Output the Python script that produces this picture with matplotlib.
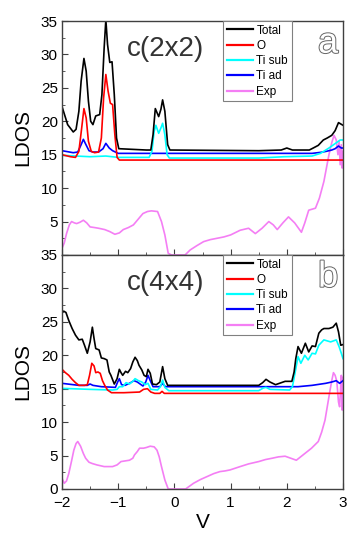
import matplotlib
matplotlib.use("Agg")
import matplotlib.pyplot as plt
import matplotlib.patheffects as pe
from matplotlib.ticker import MultipleLocator

# ---- panel a : c(2x2) ----
total_a_v = [-2.0, -1.90, -1.80, -1.75, -1.70, -1.66, -1.61, -1.57, -1.53, -1.49, -1.45, -1.40, -1.33, -1.29, -1.25,
             -1.22, -1.19, -1.15, -1.11, -1.07, -1.03, -0.99, -0.5, -0.42, -0.38, -0.34, -0.28, -0.24, -0.21, -0.17,
             -0.12, -0.08, 1.5, 1.9, 2.0, 2.1, 2.4, 2.47, 2.56, 2.65, 2.72, 2.80, 2.86, 2.92, 2.96, 3.0]
total_a = [22.2, 19.5, 18.4, 18.8, 21.5, 26.0, 29.4, 27.5, 23.0, 20.0, 19.5, 20.8, 21.0, 24.0, 31.0,
           35.2, 31.5, 28.8, 28.9, 24.0, 17.5, 15.9, 15.7, 15.7, 18.0, 21.9, 20.7, 21.8, 23.2, 21.5,
           16.5, 15.7, 15.6, 15.7, 16.0, 15.7, 15.7, 16.0, 16.4, 17.2, 17.5, 17.9, 18.6, 19.8, 19.6, 19.4]

o_a_v = [-2.0, -1.85, -1.76, -1.70, -1.65, -1.61, -1.57, -1.53, -1.48, -1.42, -1.35, -1.30, -1.26, -1.22, -1.18,
         -1.14, -1.10, -1.06, -1.02, -0.98, 3.0]
o_a = [15.0, 14.7, 14.6, 15.5, 19.0, 21.9, 20.5, 17.0, 15.5, 15.3, 15.4, 17.5, 23.5, 27.0, 24.5,
       22.7, 22.5, 18.0, 14.6, 14.2, 14.2]

tisub_a_v = [-2.0, -1.5, -1.22, -1.0, -0.45, -0.40, -0.36, -0.33, -0.28, -0.24, -0.21, -0.17, -0.13, -0.09,
             1.5, 1.95, 2.45, 2.6, 2.75, 2.85, 2.95, 3.0]
tisub_a = [14.9, 14.7, 14.8, 14.6, 14.6, 15.5, 18.5, 19.4, 18.2, 19.0, 19.7, 18.0, 15.0, 14.5,
           14.5, 14.7, 14.8, 15.2, 16.0, 16.6, 17.2, 17.2]

tiad_a_v = [-2.0, -1.80, -1.72, -1.66, -1.62, -1.58, -1.52, -1.45, -1.35, -1.27, -1.22, -1.16, -1.10, -1.0,
            2.45, 2.6, 2.7, 2.8, 2.86, 2.92, 2.97, 3.0]
tiad_a = [15.6, 15.3, 15.4, 16.5, 17.3, 16.6, 15.6, 15.4, 15.4, 15.9, 16.7, 16.0, 15.6, 15.2,
          15.2, 15.35, 15.5, 15.7, 15.9, 16.3, 16.0, 16.0]

exp_a_v = [-2.0, -1.96, -1.92, -1.87, -1.83, -1.78, -1.74, -1.68, -1.62, -1.56, -1.50, -1.42, -1.35, -1.24,
           -1.15, -1.06, -0.98, -0.91, -0.82, -0.73, -0.65, -0.56, -0.48, -0.41, -0.30, -0.23, -0.17, -0.11,
           -0.05, 0.19, 0.28, 0.40, 0.52, 0.64, 0.76, 0.88, 1.0, 1.17, 1.32, 1.44, 1.56, 1.68, 1.76, 1.83,
           1.93, 2.03, 2.14, 2.26, 2.32, 2.39, 2.51, 2.58, 2.66, 2.75, 2.80, 2.84, 2.88, 2.91, 2.93, 2.95,
           2.97, 2.985, 3.0]
exp_a = [1.0, 1.8, 3.2, 4.5, 5.0, 4.8, 4.7, 4.9, 5.2, 4.8, 4.2, 4.1, 4.0, 3.8,
         3.5, 3.1, 3.3, 3.8, 4.1, 4.5, 5.3, 6.2, 6.5, 6.6, 6.5, 5.0, 3.0, 0.25,
         0.0, 0.0, 0.75, 1.4, 2.0, 2.3, 2.5, 2.7, 3.0, 3.7, 4.0, 3.2, 4.0, 5.0, 4.5, 3.8,
         4.8, 5.7, 4.8, 3.4, 4.8, 6.7, 7.0, 8.5, 11.0, 15.0, 16.8, 17.9, 17.2, 15.0, 17.0, 13.5,
         16.5, 13.0, 15.5]

# ---- panel b : c(4x4) ----
total_b_v = [-2.0, -1.97, -1.93, -1.88, -1.82, -1.76, -1.70, -1.64, -1.60, -1.55, -1.50, -1.46, -1.43, -1.40,
             -1.34, -1.30, -1.25, -1.20, -1.16, -1.13, -1.07, -1.02, -0.98, -0.95, -0.92, -0.87, -0.83, -0.78,
             -0.74, -0.70, -0.66, -0.63, -0.58, -0.54, -0.50, -0.47, -0.43, -0.39, -0.32, -0.26, -0.21, -0.17,
             -0.12, 1.5, 1.57, 1.63, 1.70, 1.8, 1.97, 2.09, 2.13, 2.16, 2.20, 2.26, 2.33, 2.39, 2.45, 2.51,
             2.57, 2.62, 2.66, 2.75, 2.82, 2.88, 2.92, 2.96, 3.0]
total_b = [26.3, 26.6, 26.4, 25.2, 24.0, 23.0, 22.3, 22.4, 21.5, 20.3, 22.0, 24.2, 22.5, 21.0,
           20.8, 19.6, 19.5, 19.3, 17.5, 17.0, 15.7, 16.5, 17.9, 17.4, 17.0, 17.6, 17.4, 18.0,
           19.0, 19.7, 19.2, 18.5, 17.8, 17.0, 16.8, 17.9, 17.3, 15.7, 15.6, 16.0, 18.3, 16.5,
           15.5, 15.5, 15.9, 16.4, 16.0, 15.6, 16.1, 16.1, 17.5, 19.5, 21.3, 20.3, 21.8, 20.5, 21.4, 21.3,
           23.3, 23.8, 24.0, 24.0, 24.2, 24.8, 23.5, 21.5, 21.6]

o_b_v = [-2.0, -1.94, -1.88, -1.82, -1.76, -1.70, -1.60, -1.55, -1.51, -1.47, -1.43, -1.40, -1.36, -1.32,
         -1.28, -1.24, -1.19, -1.12, -0.9, -0.62, -0.55, -0.48, -0.42, -0.35, -0.26, -0.22, -0.18, 3.0]
o_b = [17.9, 17.4, 17.0, 16.4, 15.9, 15.5, 15.5, 15.6, 17.0, 18.8, 18.4, 17.4, 17.5, 17.3,
       16.2, 15.5, 14.8, 14.4, 14.4, 14.5, 14.9, 15.0, 14.5, 14.3, 14.3, 14.6, 14.3, 14.3]

tisub_b_v = [-2.0, -1.5, -1.1, -1.02, -0.98, -0.92, -0.86, -0.80, -0.74, -0.70, -0.64, -0.58, -0.52, -0.47,
             -0.42, -0.30, -0.25, -0.21, -0.17, -0.10, 1.5, 1.58, 1.63, 1.70, 2.05, 2.10, 2.15, 2.20, 2.25,
             2.32, 2.38, 2.45, 2.51, 2.57, 2.66, 2.78, 2.88, 2.93, 2.97, 3.0]
tisub_b = [15.05, 14.9, 14.8, 14.9, 15.3, 15.3, 15.9, 15.7, 16.1, 16.5, 16.2, 16.0, 15.6, 15.8,
           14.9, 14.8, 15.3, 16.3, 15.2, 14.7, 14.7, 15.1, 15.2, 14.9, 14.8, 15.3, 17.5, 19.8, 18.8,
           20.0, 19.3, 20.3, 20.2, 21.5, 22.3, 22.0, 22.3, 21.3, 20.3, 19.5]

tiad_b_v = [-2.0, -1.7, -1.55, -1.5, -1.45, -1.3, -1.05, -1.01, -0.98, -0.94, -0.88, -0.80, -0.72, -0.66,
            -0.56, -0.51, -0.47, -0.43, -0.38, -0.26, -0.21, -0.16, 2.2, 2.45, 2.69, 2.8, 2.88, 2.94, 3.0]
tiad_b = [15.8, 15.5, 15.5, 15.7, 15.5, 15.3, 15.2, 16.0, 16.5, 15.6, 15.5, 15.8, 16.2, 16.0,
          15.4, 16.0, 17.0, 16.2, 15.3, 15.3, 15.8, 15.3, 15.3, 15.5, 15.8, 16.0, 16.2, 15.8, 16.2]

exp_b_v = [-2.0, -1.96, -1.92, -1.88, -1.83, -1.79, -1.75, -1.72, -1.67, -1.62, -1.58, -1.52, -1.46, -1.38,
           -1.25, -1.10, -1.02, -0.95, -0.80, -0.74, -0.71, -0.66, -0.62, -0.55, -0.50, -0.43, -0.36, -0.31,
           -0.27, -0.23, -0.17, -0.11, 0.2, 0.34, 0.46, 0.58, 0.70, 0.81, 0.90, 0.99, 1.17, 1.32, 1.5, 1.62,
           1.74, 1.85, 1.97, 2.07, 2.17, 2.29, 2.44, 2.56, 2.62, 2.68, 2.73, 2.77, 2.80, 2.83, 2.86, 2.89,
           2.92, 2.94, 2.96, 2.97, 2.985, 3.0]
exp_b = [1.6, 0.85, 1.2, 2.3, 4.2, 5.8, 6.8, 7.1, 6.4, 5.3, 4.6, 4.0, 3.8, 3.6,
         3.35, 3.35, 3.6, 4.1, 4.3, 4.6, 5.1, 5.6, 6.1, 6.1, 6.2, 6.4, 6.3, 5.8,
         4.8, 3.35, 1.35, 0.0, 0.0, 0.85, 1.4, 1.85, 2.3, 2.6, 2.7, 2.85, 3.35, 3.75, 4.1, 4.4,
         4.6, 4.8, 4.9, 4.6, 4.3, 5.1, 6.1, 7.1, 8.5, 10.3, 12.8, 14.8, 16.2, 17.4, 17.0, 16.1,
         13.0, 12.3, 15.5, 17.0, 11.8, 16.7]

labels = ["Total", "O", "Ti sub", "Ti ad", "Exp"]
colors = ["black", "#ff0000", "#00ffff", "#0000ff", "#f47ef4"]
frame = "#404040"

plt.rcParams["font.family"] = ["Liberation Sans", "DejaVu Sans"]


def panel(ax, data, title, letter):
	lines = {}
	# draw Total last so it sits on top, legend keeps the original order
	for i in [4, 3, 2, 1, 0]:
		v, y = data[i]
		lines[i], = ax.plot(v, y, color=colors[i], lw=1.2, label=labels[i])
	ax.set_xlim(-2, 3)
	ax.set_ylim(0, 35)
	ax.xaxis.set_major_locator(MultipleLocator(1))
	ax.xaxis.set_minor_locator(MultipleLocator(0.5))
	ax.yaxis.set_major_locator(MultipleLocator(5))
	ax.yaxis.set_minor_locator(MultipleLocator(2.5))
	ax.tick_params(which="both", direction="in", top=False, right=False, color=frame, labelsize=11)
	ax.tick_params(which="major", length=4)
	ax.tick_params(which="minor", length=2.5)
	ax.tick_params(axis="x", pad=5)
	ax.tick_params(axis="y", pad=3)
	for s in ax.spines.values():
		s.set_color(frame)
		s.set_linewidth(1.0)
	ax.set_ylabel("LDOS", fontsize=15, labelpad=6)
	ax.text(0.23, 0.88, title, transform=ax.transAxes, fontsize=20, color="#333333",
			ha="left", va="center")
	ax.text(0.947, 0.905, letter, transform=ax.transAxes, fontsize=26, color="white",
			ha="center", va="center",
			path_effects=[pe.withStroke(linewidth=1.4, foreground="#666666")])
	leg = ax.legend([lines[i] for i in range(5)], labels, loc="upper right",
					bbox_to_anchor=(0.817, 1.0), fontsize=8.5, frameon=True, fancybox=False,
					borderpad=0.3, labelspacing=0.28, handlelength=2.2, handletextpad=0.3,
					borderaxespad=0.0, framealpha=1)
	leg.get_frame().set_edgecolor("#808080")
	leg.get_frame().set_linewidth(0.8)
	for h in leg.get_lines():
		h.set_linewidth(1.6)


def main():
	fig = plt.figure(figsize=(3.49, 5.33), dpi=100)
	ax1 = fig.add_axes([0.1777, 0.5216, 0.8051, 0.4390])
	ax2 = fig.add_axes([0.1777, 0.0826, 0.8051, 0.4390])

	data_a = [(total_a_v, total_a), (o_a_v, o_a), (tisub_a_v, tisub_a), (tiad_a_v, tiad_a), (exp_a_v, exp_a)]
	data_b = [(total_b_v, total_b), (o_b_v, o_b), (tisub_b_v, tisub_b), (tiad_b_v, tiad_b), (exp_b_v, exp_b)]

	panel(ax1, data_a, "c(2x2)", "a")
	panel(ax2, data_b, "c(4x4)", "b")

	ax1.tick_params(labelbottom=False)
	ax1.set_yticks([0, 5, 10, 15, 20, 25, 30, 35])
	ax1.set_yticklabels(["", "5", "10", "15", "20", "25", "30", "35"])
	ax2.set_xlabel("V", fontsize=15, labelpad=2)

	fig.savefig("out.png", dpi=100)


if __name__ == '__main__':
	main()
